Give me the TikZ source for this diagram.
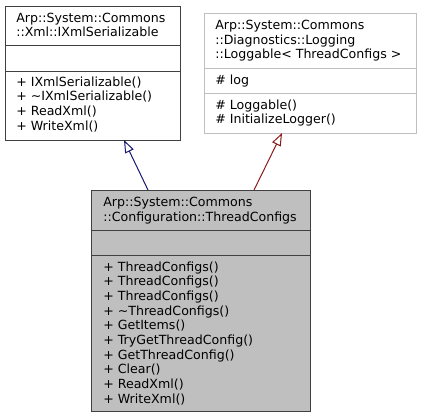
\documentclass[tikz,border=0pt]{standalone}
\usepackage{fontspec}
\setmainfont{DejaVu Sans}
\usetikzlibrary{arrows.meta}
\definecolor{edgegray}{HTML}{404040}
\definecolor{lightgray}{HTML}{BFBFBF}
\definecolor{inhblue}{HTML}{191970}
\definecolor{inhred}{HTML}{8B1A1A}
\tikzset{
  classbox/.style={draw=#1, line width=0.75pt, inner sep=0pt},
  txt/.style={anchor=base west, inner sep=0pt, font=\fontsize{9.45pt}{11pt}\selectfont},
  inherit/.style={draw=#1, line width=0.75pt,
    -{Triangle[open, length=9.5pt, width=7pt, line width=0.75pt]}},
}
\begin{document}
\begin{tikzpicture}[x=0.75pt, y=-0.75pt]
      \useasboundingbox (0,0) rectangle (421,419);
      % class boxes
      \node[classbox=edgegray, fill=white, minimum width=131.25pt, minimum height=100.5pt]
        (xml) at (92.5,73) {};
      \node[classbox=lightgray, fill=white, minimum width=159pt, minimum height=90pt]
        (log) at (310,73) {};
      \node[classbox=edgegray, fill=lightgray, minimum width=164.25pt, minimum height=165.75pt]
        (cfg) at (200.5,300.5) {};
      % compartments
      \draw[edgegray, line width=0.75pt] (5,45) -- (180,45) (5,71) -- (180,71);
      \draw[lightgray, line width=0.75pt] (204,68) -- (416,68) (204,93) -- (416,93);
      \draw[edgegray, line width=0.75pt] (91,230) -- (310,230) (91,255) -- (310,255);
      % titles
      \node[txt] (xmlt0) at (16,22) {Arp::System::Commons};
      \node[txt] (xmlt1) at (16,36.7) {::Xml::IXmlSerializable};
      \node[txt] (logt0) at (215,29.3) {Arp::System::Commons};
      \node[txt] (logt1) at (215,44) {::Diagnostics::Logging};
      \node[txt] (logt2) at (215,58.7) {::Loggable< ThreadConfigs >};
      \node[txt] (cfgt0) at (103,206.7) {Arp::System::Commons};
      \node[txt] (cfgt1) at (103,221.3) {::Configuration::ThreadConfigs};
      % members
      \node[txt] (loga0) at (215,84.3) {\# log};
      \foreach \m [count=\i from 0] in {{+ IXmlSerializable()}, {+ \textasciitilde IXmlSerializable()},
          {+ ReadXml()}, {+ WriteXml()}}
        \node[txt] (xmlm\i) at (16,86+14.67*\i) {\m};
      \foreach \m [count=\i from 0] in {{\# Loggable()}, {\# InitializeLogger()}}
        \node[txt] (logm\i) at (215,109+14.67*\i) {\m};
      \foreach \m [count=\i from 0] in {{+ ThreadConfigs()}, {+ ThreadConfigs()}, {+ ThreadConfigs()},
          {+ \textasciitilde ThreadConfigs()}, {+ GetItems()}, {+ TryGetThreadConfig()},
          {+ GetThreadConfig()}, {+ Clear()}, {+ ReadXml()}, {+ WriteXml()}}
        \node[txt] (cfgm\i) at (103,271+14.67*\i) {\m};
      % inheritance
      \coordinate (xmlfoot) at (148,190);
      \coordinate (xmlhead) at (124,140);
      \coordinate (logfoot) at (254,190);
      \coordinate (loghead) at (282,133);
      \draw[inherit=inhblue] (xmlfoot) -- (xmlhead);
      \draw[inherit=inhred] (logfoot) -- (loghead);
    \end{tikzpicture}
\end{document}
